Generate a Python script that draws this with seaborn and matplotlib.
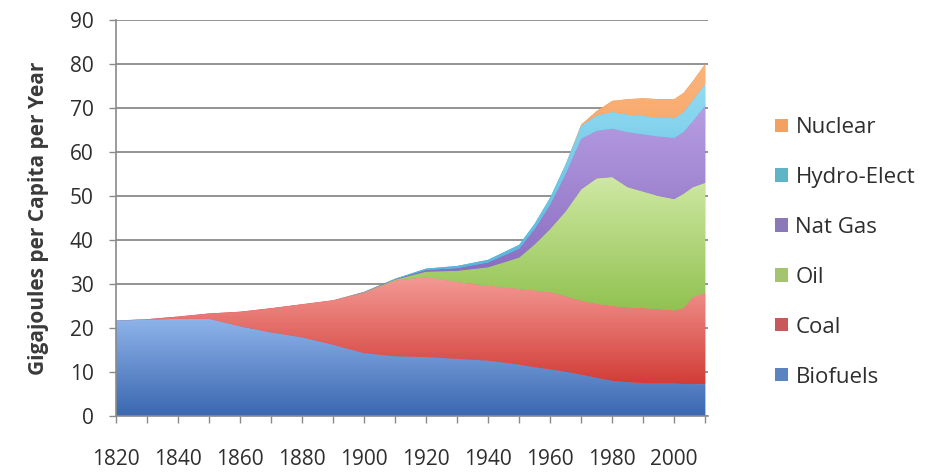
import numpy as np
import matplotlib
matplotlib.use("Agg")
import matplotlib.pyplot as plt
from matplotlib.colors import LinearSegmentedColormap
from matplotlib.patches import Patch
import seaborn as sns

# World primary energy per capita by source (GJ per person per year)
years = [1820, 1830, 1840, 1850, 1860, 1870, 1880, 1890, 1900, 1910, 1920, 1930,
         1940, 1950, 1955, 1960, 1965, 1970, 1975, 1980, 1985, 1990, 1995, 2000,
         2003, 2006, 2010]
biofuels = [21.7, 21.9, 22.1, 22.1, 20.4, 19.0, 17.9, 16.2, 14.3, 13.6, 13.4, 13.0,
            12.6, 11.7, 11.1, 10.6, 10.1, 9.4, 8.7, 8.0, 7.7, 7.5, 7.4, 7.4,
            7.3, 7.2, 7.2]
coal = [0.0, 0.1, 0.5, 1.2, 3.3, 5.5, 7.5, 10.1, 13.7, 17.2, 18.2, 17.5,
        17.0, 17.2, 17.4, 17.6, 17.1, 16.8, 16.8, 17.0, 17.0, 17.0, 16.9, 16.6,
        17.2, 19.8, 20.8]
oil = [0, 0, 0, 0, 0, 0, 0, 0, 0.1, 0.2, 1.2, 2.5,
       4.2, 7.1, 10.5, 14.3, 19.3, 25.3, 28.5, 29.3, 27.3, 26.5, 25.7, 25.3,
       26.0, 25.0, 25.0]
nat_gas = [0, 0, 0, 0, 0, 0, 0, 0, 0.1, 0.1, 0.4, 0.6,
           1.1, 2.0, 3.5, 5.5, 8.5, 11.5, 10.8, 11.0, 12.5, 13.0, 13.5, 13.9,
           14.0, 15.0, 17.5]
hydro = [0, 0, 0, 0, 0, 0, 0, 0, 0, 0.1, 0.3, 0.5,
         0.6, 0.9, 1.2, 1.6, 2.2, 3.0, 3.5, 3.8, 4.0, 4.2, 4.3, 4.5,
         4.6, 4.8, 5.0]
nuclear = [0, 0, 0, 0, 0, 0, 0, 0, 0, 0, 0, 0,
           0, 0, 0, 0, 0, 0.2, 1.0, 2.5, 3.5, 4.0, 4.2, 4.3,
           4.3, 4.3, 4.5]

labels = ["Biofuels", "Coal", "Oil", "Nat Gas", "Hydro-Elect", "Nuclear"]
series = [biofuels, coal, oil, nat_gas, hydro, nuclear]
# (top colour, bottom colour) for each gradient-filled band
shades = [("#8fb4ea", "#3a67b0"),
          ("#f49a95", "#d23c37"),
          ("#cfe8a3", "#8cbf4a"),
          ("#b79de2", "#7d60b8"),
          ("#92dbf2", "#46acd6"),
          ("#fbb47c", "#ef8a40")]
legend_cols = ["#f4a060", "#5fb4c8", "#8a78b8", "#a4c470", "#c8585a", "#5a84c0"]

sns.set_theme(style="white")
plt.rcParams["font.family"] = ["Open Sans", "DejaVu Sans"]

fig = plt.figure(figsize=(9.32, 4.76), dpi=100)
ax = fig.add_axes([0.1245, 0.126, 0.6355, 0.832])

x = np.array(years, dtype=float)
lower = np.zeros_like(x)
grad = np.linspace(0, 1, 256).reshape(-1, 1)
for vals, (top, bot) in zip(series, shades):
    upper = lower + np.array(vals, dtype=float)
    poly = ax.fill_between(x, lower, upper, facecolor=bot, edgecolor="none",
                           linewidth=0, zorder=1.5)
    cmap = LinearSegmentedColormap.from_list("band", [bot, top])
    im = ax.imshow(grad, extent=[x[0], x[-1], lower.min(), max(upper.max(), lower.min() + 0.1)],
                   origin="lower", aspect="auto", cmap=cmap, zorder=2,
                   interpolation="bilinear")
    im.set_clip_path(poly.get_paths()[0], transform=ax.transData)
    lower = upper

ax.set_xlim(1820, 2011)
ax.set_ylim(0, 90)
ax.set_aspect("auto")

ax.set_yticks(range(0, 91, 10))
ax.set_xticks(range(1820, 2001, 20))
ax.set_xticks(range(1820, 2011, 10), minor=True)
ax.yaxis.grid(True, color="#8a8a8a", linewidth=1.3, zorder=0.5)
ax.xaxis.grid(False)
ax.set_axisbelow(True)

for side in ("top", "right"):
    ax.spines[side].set_visible(False)
for side in ("left", "bottom"):
    ax.spines[side].set_color("#8a8a8a")
    ax.spines[side].set_linewidth(1.2)

ax.tick_params(axis="y", which="major", direction="out", length=5, width=1,
               color="#8a8a8a", labelsize=15, labelcolor="#2e2e2e", pad=11,
               left=True)
ax.tick_params(axis="x", which="both", direction="out", length=5, width=1,
               color="#8a8a8a", bottom=True)
ax.tick_params(axis="x", which="major", labelsize=15, labelcolor="#2e2e2e", pad=19)

ax.set_ylabel("Gigajoules per Capita per Year", fontsize=15, fontweight="bold",
              color="#3a3a3a", labelpad=15)

handles = [Patch(facecolor=c, edgecolor="none") for c in legend_cols]
leg_labels = ["Nuclear", "Hydro-Elect", "Nat Gas", "Oil", "Coal", "Biofuels"]
fig.legend(handles, leg_labels, loc="upper left", bbox_to_anchor=(0.832, 0.754),
           frameon=False, fontsize=16, labelcolor="#2e2e2e",
           handlelength=0.55, handleheight=0.55, handletextpad=0.35,
           labelspacing=1.3, borderaxespad=0, borderpad=0)

fig.savefig("out.png", dpi=100, facecolor="white")
